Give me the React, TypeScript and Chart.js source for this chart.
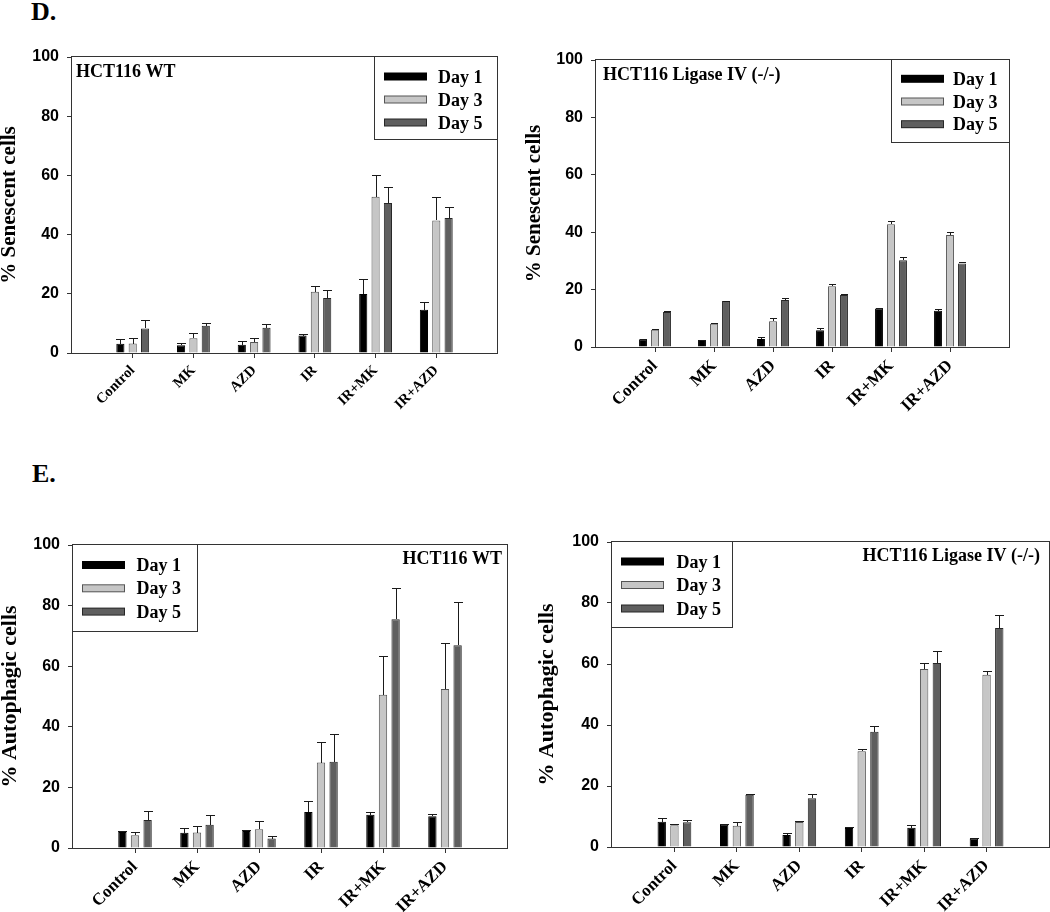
import React, { useEffect, useRef } from 'react';
import { Chart, registerables } from 'chart.js';

Chart.register(...registerables);

// ---------- data ----------
const categories = ['Control', 'MK', 'AZD', 'IR', 'IR+MK', 'IR+AZD'];
const seriesNames = ['Day 1', 'Day 3', 'Day 5'];
const yTicks = [0, 20, 40, 60, 80, 100];

// D. % Senescent cells, HCT116 WT
const senWtDay1 = [3.1, 2.6, 2.8, 5.9, 19.9, 14.6];
const senWtDay3 = [3.2, 5.0, 3.7, 20.7, 52.8, 44.8];
const senWtDay5 = [8.3, 9.2, 8.5, 18.6, 50.7, 45.6];
const senWtErr1 = [1.6, 0.8, 1.3, 0.4, 5.1, 2.5];
const senWtErr3 = [1.7, 1.7, 1.5, 1.9, 7.3, 7.8];
const senWtErr5 = [2.8, 1.1, 1.4, 2.7, 5.5, 3.7];

// D. % Senescent cells, HCT116 Ligase IV (-/-)
const senLigDay1 = [2.7, 2.4, 2.8, 5.8, 13.4, 12.6];
const senLigDay3 = [6.0, 8.1, 9.0, 21.2, 42.8, 39.0];
const senLigDay5 = [12.2, 16.0, 16.4, 18.1, 30.2, 29.1];
const senLigErr1 = [0.2, 0.2, 0.7, 0.8, 0.2, 0.7];
const senLigErr3 = [0.2, 0.2, 1.1, 0.8, 1.2, 0.9];
const senLigErr5 = [0.2, 0.2, 0.5, 0.4, 1.2, 0.6];

// E. % Autophagic cells, HCT116 WT
const autWtDay1 = [5.3, 5.0, 5.6, 11.9, 11.0, 10.5];
const autWtDay3 = [4.2, 5.1, 6.2, 28.2, 50.6, 52.5];
const autWtDay5 = [9.2, 7.7, 3.1, 28.5, 75.5, 66.9];
const autWtErr1 = [0.2, 1.7, 0.5, 3.7, 0.8, 0.7];
const autWtErr3 = [1.1, 2.1, 2.6, 6.9, 12.7, 15.0];
const autWtErr5 = [3.0, 3.1, 0.8, 9.2, 10.2, 14.3];

// E. % Autophagic cells, HCT116 Ligase IV (-/-)
const autLigDay1 = [8.3, 7.3, 3.9, 6.2, 6.3, 2.8];
const autLigDay3 = [7.1, 7.0, 8.2, 31.4, 58.4, 56.5];
const autLigDay5 = [8.1, 17.1, 16.0, 37.8, 60.3, 71.8];
const autLigErr1 = [1.2, 0.3, 0.7, 0.5, 0.8, 0.1];
const autLigErr3 = [0.3, 1.1, 0.2, 0.8, 1.9, 1.2];
const autLigErr5 = [0.7, 0.3, 1.3, 1.8, 3.9, 4.3];

// ---------- styles ----------
const fills = ['#000000', '#c6c6c6', '#5f5f5f'];
const borders = ['#000000', '#555555', '#262626'];
const SERIF = '"Liberation Serif", "Times New Roman", serif';
const SANS = '"Liberation Sans", Arial, sans-serif';

const decorPlugin = {
  id: 'decor',
  afterDatasetsDraw(chart: any, _args: any, opts: any) {
    const ctx = chart.ctx;
    const yScale = chart.scales.y;
    const { left, top, right, bottom } = chart.chartArea;
    ctx.save();
    // error bars (upper only)
    chart.data.datasets.forEach((ds: any, di: number) => {
      const meta = chart.getDatasetMeta(di);
      meta.data.forEach((bar: any, i: number) => {
        const p = bar.getProps(['x', 'y', 'width'], true);
        const v = ds.data[i].y;
        const e = ds.errors[i];
        const yt = Math.round(yScale.getPixelForValue(v + e)) + 0.5;
        const x = Math.round(p.x) + 0.5;
        const half = p.width / 2;
        ctx.strokeStyle = '#1a1a1a';
        ctx.lineWidth = 1;
        ctx.beginPath();
        ctx.moveTo(x, Math.round(p.y));
        ctx.lineTo(x, yt);
        ctx.moveTo(Math.round(x - half), yt);
        ctx.lineTo(Math.round(x + half), yt);
        ctx.stroke();
      });
    });
    // frame
    ctx.strokeStyle = '#333';
    ctx.lineWidth = 1;
    ctx.strokeRect(left - 0.5, top - 0.5, right - left + 1, bottom - top + 1);
    // legend box
    const lg = opts.legend;
    const bx = lg.corner === 'tr' ? right - lg.w : left;
    const by = top;
    ctx.fillStyle = '#fff';
    ctx.fillRect(bx, by, lg.w, lg.h);
    ctx.strokeRect(bx - 0.5, by - 0.5, lg.w + 1, lg.h + 1);
    chart.data.datasets.forEach((ds: any, k: number) => {
      const cy = by + lg.row0 + k * lg.rowGap;
      ctx.fillStyle = ds.borderColor;
      ctx.fillRect(bx + 9, cy - 4, 43, 8);
      ctx.fillStyle = ds.backgroundColor;
      ctx.fillRect(bx + 10, cy - 3, 41, 6);
      ctx.fillStyle = '#000';
      ctx.font = 'bold 18px ' + SERIF;
      ctx.textAlign = 'left';
      ctx.textBaseline = 'alphabetic';
      ctx.fillText(ds.label, bx + lg.textDx, cy + 6);
    });
    // panel name
    const nm = opts.name;
    ctx.fillStyle = '#000';
    ctx.font = 'bold 18px ' + SERIF;
    ctx.textAlign = nm.align;
    ctx.textBaseline = 'alphabetic';
    const nx = nm.align === 'left' ? left + nm.dx : right - nm.dx;
    ctx.fillText(nm.text, nx, top + nm.dy);
    ctx.restore();
  },
};

type PanelCfg = {
  canvas: { x: number; y: number; w: number; h: number };
  area: { l: number; t: number; r: number; b: number };
  yTitle: string;
  yTitleSize: number;
  yTitleCx: number;
  xLabelSize: number;
  name: { text: string; align: 'left' | 'right'; dx: number; dy: number };
  legend: { corner: 'tl' | 'tr'; w: number; h: number; row0: number; rowGap: number; textDx: number };
  values: number[][];
  errors: number[][];
};

function Panel({ cfg }: { cfg: PanelCfg }) {
  const ref = useRef<HTMLCanvasElement | null>(null);
  useEffect(() => {
    if (!ref.current) return;
    const { canvas, area } = cfg;
    const yW = area.l - canvas.x;
    const xH = canvas.y + canvas.h - area.b;
    const padTop = area.t - canvas.y;
    const padRight = canvas.x + canvas.w - area.r;
    const titleLH = 1.2 * cfg.yTitleSize;
    const titlePad = cfg.yTitleCx - canvas.x - titleLH / 2;
    const chart = new Chart(ref.current, {
      type: 'bar',
      data: {
        datasets: seriesNames.map((name, k) => ({
          label: name,
          data: categories.map((_, i) => ({ x: i, y: cfg.values[k][i] })),
          errors: cfg.errors[k],
          backgroundColor: fills[k],
          borderColor: borders[k],
          borderWidth: 1,
          categoryPercentage: 0.61,
          barPercentage: 0.66,
        })) as any,
      },
      options: {
        animation: false,
        responsive: false,
        maintainAspectRatio: false,
        layout: { padding: { left: 0, top: padTop, right: padRight, bottom: 0 } },
        plugins: {
          legend: { display: false },
          tooltip: { enabled: false },
          decor: { legend: cfg.legend, name: cfg.name },
        } as any,
        scales: {
          x: {
            type: 'linear',
            min: -1,
            max: 6,
            offset: false,
            grid: { offset: false, drawOnChartArea: false, tickLength: 5, color: '#333' },
            border: { display: false },
            afterBuildTicks: (axis: any) => {
              axis.ticks = categories.map((_, i) => ({ value: i }));
            },
            afterFit: (axis: any) => {
              axis.height = xH;
            },
            ticks: {
              autoSkip: false,
              minRotation: 45,
              maxRotation: 45,
              padding: 4,
              color: '#000',
              font: { family: SERIF, weight: 'bold', size: cfg.xLabelSize },
              callback: (v: any) => categories[v] ?? '',
            },
          },
          y: {
            min: 0,
            max: 100,
            grid: { drawOnChartArea: false, tickLength: 5, color: '#333' },
            border: { display: false },
            afterBuildTicks: (axis: any) => {
              axis.ticks = yTicks.map((v) => ({ value: v }));
            },
            afterFit: (axis: any) => {
              axis.width = yW;
            },
            ticks: {
              padding: 8,
              color: '#000',
              font: { family: SANS, weight: 'bold', size: 16 },
            },
            title: {
              display: true,
              text: cfg.yTitle,
              color: '#000',
              font: { family: SERIF, weight: 'bold', size: cfg.yTitleSize, lineHeight: 1.2 },
              padding: { top: titlePad, bottom: 0 },
            },
          },
        } as any,
      },
      plugins: [decorPlugin as any],
    });
    return () => chart.destroy();
  }, [cfg]);
  const { canvas } = cfg;
  return (
    <canvas
      ref={ref}
      width={canvas.w}
      height={canvas.h}
      style={{ position: 'absolute', left: canvas.x, top: canvas.y, width: canvas.w, height: canvas.h }}
    />
  );
}

const panels: PanelCfg[] = [
  {
    canvas: { x: 0, y: 30, w: 515, h: 390 },
    area: { l: 72, t: 57, r: 497, b: 353 },
    yTitle: '% Senescent cells',
    yTitleSize: 21,
    yTitleCx: 10,
    xLabelSize: 14.5,
    name: { text: 'HCT116 WT', align: 'left', dx: 4, dy: 20 },
    legend: { corner: 'tr', w: 122, h: 82, row0: 19.5, rowGap: 23, textDx: 63 },
    values: [senWtDay1, senWtDay3, senWtDay5],
    errors: [senWtErr1, senWtErr3, senWtErr5],
  },
  {
    canvas: { x: 520, y: 30, w: 530, h: 400 },
    area: { l: 596, t: 60, r: 1009, b: 347 },
    yTitle: '% Senescent cells',
    yTitleSize: 21,
    yTitleCx: 535,
    xLabelSize: 17,
    name: { text: 'HCT116 Ligase IV (-/-)', align: 'left', dx: 7, dy: 20 },
    legend: { corner: 'tr', w: 117, h: 82, row0: 18.8, rowGap: 22.7, textDx: 61 },
    values: [senLigDay1, senLigDay3, senLigDay5],
    errors: [senLigErr1, senLigErr3, senLigErr5],
  },
  {
    canvas: { x: 0, y: 500, w: 520, h: 412 },
    area: { l: 73, t: 545, r: 507, b: 848 },
    yTitle: '% Autophagic cells',
    yTitleSize: 22,
    yTitleCx: 10,
    xLabelSize: 17,
    name: { text: 'HCT116 WT', align: 'right', dx: 5, dy: 19 },
    legend: { corner: 'tl', w: 124, h: 86, row0: 20, rowGap: 23.3, textDx: 63.5 },
    values: [autWtDay1, autWtDay3, autWtDay5],
    errors: [autWtErr1, autWtErr3, autWtErr5],
  },
  {
    canvas: { x: 520, y: 500, w: 530, h: 412 },
    area: { l: 612, t: 542, r: 1049, b: 847 },
    yTitle: '% Autophagic cells',
    yTitleSize: 22,
    yTitleCx: 547,
    xLabelSize: 17,
    name: { text: 'HCT116 Ligase IV (-/-)', align: 'right', dx: 9, dy: 19 },
    legend: { corner: 'tl', w: 120, h: 85, row0: 19.5, rowGap: 23.5, textDx: 64.5 },
    values: [autLigDay1, autLigDay3, autLigDay5],
    errors: [autLigErr1, autLigErr3, autLigErr5],
  },
];

const labelStyle: React.CSSProperties = {
  position: 'absolute',
  fontFamily: SERIF,
  fontWeight: 'bold',
  fontSize: 26,
  lineHeight: '26px',
  color: '#000',
  margin: 0,
};

export default function App() {
  return (
    <div
      style={{
        position: 'absolute',
        left: 0,
        top: 0,
        width: 1050,
        height: 912,
        overflow: 'hidden',
        background: '#fff',
      }}
    >
      <div style={{ ...labelStyle, left: 31, top: -1 }}>D.</div>
      <div style={{ ...labelStyle, left: 32, top: 461 }}>E.</div>
      {panels.map((p, i) => (
        <Panel key={i} cfg={p} />
      ))}
    </div>
  );
}
